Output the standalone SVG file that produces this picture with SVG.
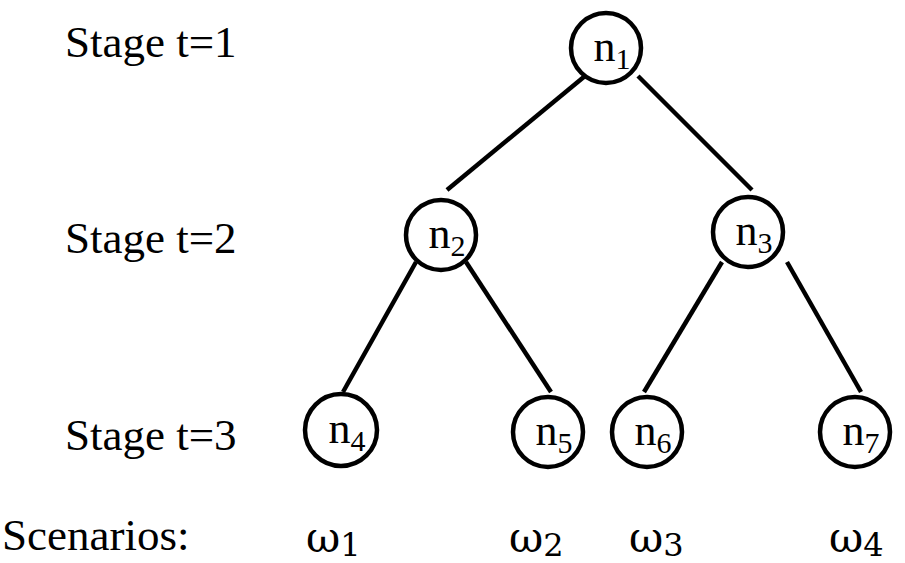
<svg xmlns="http://www.w3.org/2000/svg" width="905" height="563" viewBox="0 0 905 563">
<style>
.node circle{fill:#fff;stroke:#000;stroke-width:4.5}
.lbl{font-family:"Liberation Serif","Times New Roman",serif;font-size:45px;fill:#000}
.nl{font-family:"Liberation Serif","Times New Roman",serif;font-size:44px;fill:#000;text-anchor:middle}
.sub{font-size:30px}
.om{font-family:"DejaVu Serif","Liberation Serif",serif;font-size:42px;fill:#000}
.omsub{font-size:32px}
#connectors line{stroke:#000;stroke-width:4.5;stroke-linecap:butt}
</style>
<rect width="905" height="563" fill="#fff"/>
<g id="connectors">
<line x1="585" y1="76" x2="447" y2="190"/>
<line x1="638" y1="76" x2="752" y2="190"/>
<line x1="416" y1="262" x2="343" y2="392"/>
<line x1="466" y1="262" x2="551" y2="392"/>
<line x1="722" y1="262" x2="644" y2="392"/>
<line x1="787" y1="262" x2="861" y2="392"/>
</g>
<g id="n1" class="node"><circle cx="606" cy="48" r="35"/><text class="nl" x="612" y="61">n<tspan class="sub" dy="8">1</tspan></text></g>
<g id="n2" class="node"><circle cx="441" cy="235" r="35"/><text class="nl" x="447" y="248">n<tspan class="sub" dy="8">2</tspan></text></g>
<g id="n3" class="node"><circle cx="748" cy="232" r="35"/><text class="nl" x="754" y="245">n<tspan class="sub" dy="8">3</tspan></text></g>
<g id="n4" class="node"><circle cx="341" cy="430" r="36"/><text class="nl" x="347" y="443">n<tspan class="sub" dy="8">4</tspan></text></g>
<g id="n5" class="node"><circle cx="548" cy="432" r="35"/><text class="nl" x="554" y="445">n<tspan class="sub" dy="8">5</tspan></text></g>
<g id="n6" class="node"><circle cx="647" cy="432" r="35"/><text class="nl" x="653" y="445">n<tspan class="sub" dy="8">6</tspan></text></g>
<g id="n7" class="node"><circle cx="855" cy="432" r="35"/><text class="nl" x="861" y="445">n<tspan class="sub" dy="8">7</tspan></text></g>
<g id="labels">
<text class="lbl" x="65" y="57">Stage t=1</text>
<text class="lbl" x="65" y="253">Stage t=2</text>
<text class="lbl" x="65" y="450">Stage t=3</text>
<text class="lbl" x="2" y="550">Scenarios:</text>
<text class="om" x="306" y="552">ω<tspan class="omsub" dy="4">1</tspan></text>
<text class="om" x="509" y="552">ω<tspan class="omsub" dy="4">2</tspan></text>
<text class="om" x="629" y="552">ω<tspan class="omsub" dy="4">3</tspan></text>
<text class="om" x="829" y="552">ω<tspan class="omsub" dy="4">4</tspan></text>
</g>
</svg>
